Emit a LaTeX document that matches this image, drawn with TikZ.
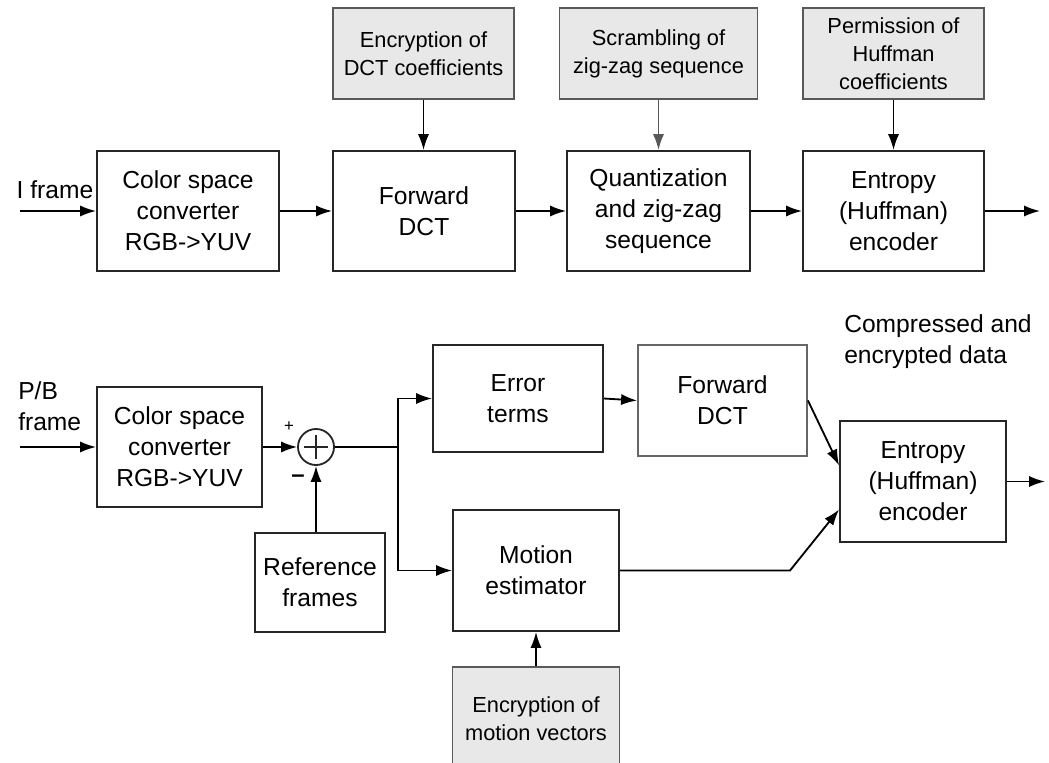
\documentclass[tikz,border=0pt]{standalone}
\usepackage{fontspec}
\setmainfont{Liberation Sans}
\usetikzlibrary{positioning,arrows.meta,calc}
\tikzset{
  flow/.style={-{Latex[length=4mm,width=2.8mm]}, line width=1.3pt, draw=black},
  every node/.style={anchor=center}
}

\begin{document}
\begin{tikzpicture}[
    x=0.025cm, y=-0.025cm,
    blk/.style={draw=black!85, line width=1.3pt, align=center, inner sep=0pt,
      font=\fontsize{17.5}{22}\selectfont},
    enc/.style={blk, fill=black!9, draw=black!65, font=\fontsize{15.5}{20}\selectfont},
    lbl/.style={align=left, inner sep=0pt, font=\fontsize{17.5}{22}\selectfont},
    sumnode/.style={draw=black!85, line width=1.3pt, circle, minimum size=0.9cm, inner sep=0pt,
      path picture={
        \draw[line width=1.6pt] ([xshift=-3mm]path picture bounding box.center) -- ([xshift=3mm]path picture bounding box.center);
        \draw[line width=1.6pt] ([yshift=-3mm]path picture bounding box.center) -- ([yshift=3mm]path picture bounding box.center);
      }}
  ]
  \useasboundingbox (0,0) rectangle (1049,762);

  % I frame path
  \node[blk, minimum width=4.55cm, minimum height=3cm]    (csc1)   at (188,211)   {Color space\\converter\\RGB-{}>YUV};
  \node[blk, minimum width=4.55cm, minimum height=3cm]    (fdct1)  at (424,211)   {Forward\\DCT};
  \node[blk, minimum width=4.575cm, minimum height=3cm]   (quant)  at (658.5,211) {Quantization\\and zig-zag\\sequence};
  \node[blk, minimum width=4.525cm, minimum height=3cm]   (ent1)   at (893.5,211) {Entropy\\(Huffman)\\encoder};
  \node[enc, minimum width=4.525cm, minimum height=2.275cm] (encdct) at (423.5,53.5) {Encryption of\\DCT coefficients};
  \node[enc, minimum width=4.95cm, minimum height=2.275cm]  (scram)  at (658.5,53.5) {Scrambling of\\zig-zag sequence};
  \node[enc, minimum width=4.525cm, minimum height=2.275cm] (perm)   at (893.5,53.5) {Permission of\\Huffman\\coefficients};
  \node[lbl] (ilbl) at (55,190) {I frame};
  \coordinate (iin)  at (20,211);
  \coordinate (iout) at (1040,211);

  \draw[flow] (iin) -- (csc1.west);
  \draw[flow] (csc1.east) -- (fdct1.west);
  \draw[flow] (fdct1.east) -- (quant.west);
  \draw[flow] (quant.east) -- (ent1.west);
  \draw[flow] (ent1.east) -- (iout);
  \draw[flow] (encdct.south) -- (encdct.south |- fdct1.north);
  \draw[flow, draw=black!65] (scram.south) -- (scram.south |- quant.north);
  \draw[flow] (perm.south) -- (ent1.north);

  % P/B frame path
  \node[blk, minimum width=4.125cm, minimum height=3cm]   (csc2)   at (179.5,447) {Color space\\converter\\RGB-{}>YUV};
  \node[sumnode] (sum) at (316,447) {};
  \node[font=\fontsize{12}{14}\selectfont, inner sep=0pt] (plus)  at (289,427) {+};
  \node[font=\fontsize{17}{20}\selectfont\bfseries, inner sep=0pt] (minus) at (298,479) {\textendash};
  \node[blk, minimum width=3.25cm, minimum height=2.475cm]  (ref)   at (320,582.5) {Reference\\frames};
  \node[blk, minimum width=4.25cm, minimum height=2.675cm]  (err)   at (518,398.5) {Error\\terms};
  \node[blk, draw=black!60, minimum width=4.225cm, minimum height=2.775cm] (fdct2) at (722.5,400.5) {Forward\\DCT};
  \node[blk, minimum width=4.15cm, minimum height=3.025cm]  (ent2)  at (923,481.5) {Entropy\\(Huffman)\\encoder};
  \node[blk, minimum width=4.15cm, minimum height=3.025cm]  (mot)   at (536,570.5) {Motion\\estimator};
  \node[enc, minimum width=4.175cm, minimum height=2.575cm] (encmv) at (536,718.5) {Encryption of\\motion vectors};
  \node[lbl, anchor=west] (pblbl) at (18,406) {P/B\\frame};
  \node[lbl, anchor=west] (outlbl) at (844,341.5) {Compressed and\\encrypted data};
  \coordinate (pbin)   at (20,447);
  \coordinate (branch) at (398,447);
  \coordinate (kink)   at (790,570.5);
  \coordinate (pbout)  at (1045,481.5);

  \draw[flow] (pbin) -- (csc2.west);
  \draw[flow] (csc2.east) -- (sum.west);
  \draw[flow] (ref.north -| sum.south) -- (sum.south);
  \draw[line width=1.3pt] (sum.east) -- (branch);
  \draw[flow] (branch) |- (err.west);
  \draw[flow] (branch) |- (mot.west);
  \draw[flow] (err.east) -- (fdct2.west);
  \draw[flow] (fdct2.east) -- ([yshift=4mm]ent2.west);
  \draw[flow] (mot.east) -- (kink) -- ([yshift=-7mm]ent2.west);
  \draw[flow] (encmv.north) -- (mot.south);
  \draw[flow] (ent2.east) -- (pbout);

\end{tikzpicture}
\end{document}
